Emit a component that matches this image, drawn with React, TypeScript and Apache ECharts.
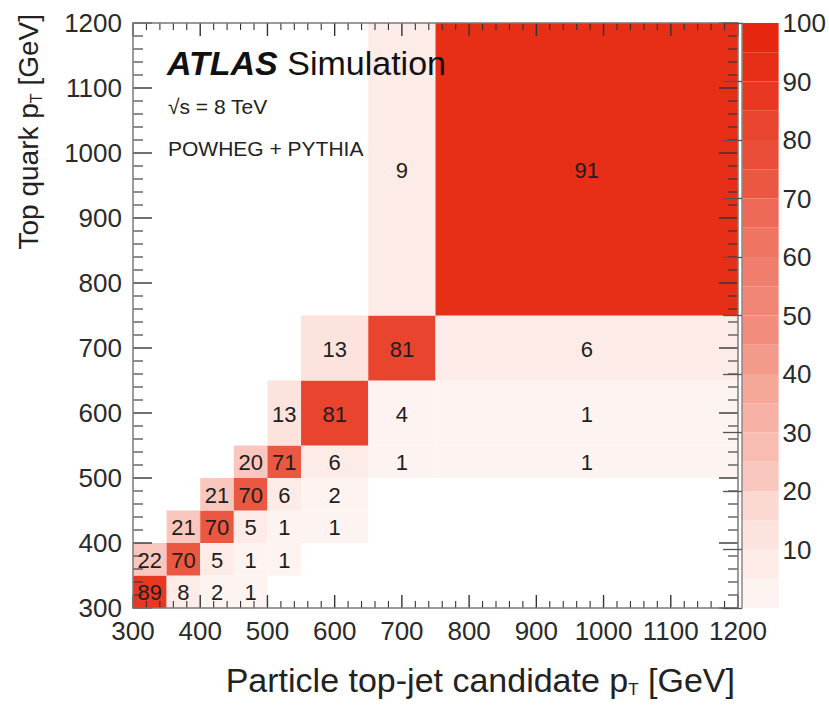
import React, { useEffect, useRef } from "react";
import * as echarts from "echarts";

// Bin edges (GeV) of the particle-level (x) and parton-level (y) top pT
const xBinEdges = [300, 350, 400, 450, 500, 550, 650, 750, 1200];
const yBinEdges = [300, 350, 400, 450, 500, 550, 650, 750, 1200];

// Migration matrix in %, one row per top-quark pT bin (bottom to top), null = empty
const migration: (number | null)[][] = [
  [89, 8, 2, 1, null, null, null, null],
  [22, 70, 5, 1, 1, null, null, null],
  [null, 21, 70, 5, 1, 1, null, null],
  [null, null, 21, 70, 6, 2, null, null],
  [null, null, null, 20, 71, 6, 1, 1],
  [null, null, null, null, 13, 81, 4, 1],
  [null, null, null, null, null, 13, 81, 6],
  [null, null, null, null, null, null, 9, 91],
];

// Axis ticks (GeV): labelled major ticks and the minor-tick step
const majorTicks = [300, 400, 500, 600, 700, 800, 900, 1000, 1100, 1200];
const majorStep = 100;
const minorStep = 20;

// Colour-bar steps (lower edges, %)
const colorSteps = [0, 5, 10, 15, 20, 25, 30, 35, 40, 45, 50, 55, 60, 65, 70, 75, 80, 85, 90, 95];
const colorStepWidth = 5;

const palette = [
  "#fdf3f1", "#fdebe7", "#fce3de", "#fbd9d2", "#f9c7bd",
  "#f8bcb0", "#f7b2a5", "#f5a898", "#f39a8a", "#f28d7e",
  "#f18676", "#f07e6d", "#ef7462", "#ee6957", "#eb5842",
  "#ea4e38", "#e9442e", "#e83822", "#e72e17", "#e6260f",
];

const FONT = '"Liberation Sans", Arial, Helvetica, sans-serif';

function colorFor(v: number): string {
  const i = Math.min(palette.length - 1, Math.max(0, Math.floor(v / colorStepWidth)));
  return palette[i];
}

export default function App() {
  const ref = useRef<HTMLDivElement>(null);

  useEffect(() => {
    if (!ref.current) return;
    const chart = echarts.init(ref.current, undefined, { renderer: "svg" });

    const lo = majorTicks[0];
    const hi = majorTicks[majorTicks.length - 1];

    // cell items: [x0, x1, y0, y1, value]
    const items: number[][] = [];
    migration.forEach((row, ri) => {
      row.forEach((v, ci) => {
        if (v === null) return;
        items.push([xBinEdges[ci], xBinEdges[ci + 1], yBinEdges[ri], yBinEdges[ri + 1], v]);
      });
    });
    // frame tick items: [t, t, lo, lo, -1 major | -2 minor]
    for (let i = 0; i < majorTicks.length; i++) {
      items.push([majorTicks[i], majorTicks[i], lo, lo, -1]);
      if (i < majorTicks.length - 1) {
        for (let m = majorTicks[i] + minorStep; m < majorTicks[i + 1]; m += minorStep) items.push([m, m, lo, lo, -2]);
      }
    }

    const bands = colorSteps.map((s) => [0, 1, s, s + colorStepWidth]);

    const tickColor = "#333333";
    const plain = (v: number) => String(v);

    const mkAxis = (pos: string, labels: boolean) => ({
      gridIndex: 0, type: "value", min: lo, max: hi, interval: majorStep, position: pos,
      axisLine: { show: true, lineStyle: { color: "#7a7a7a", width: 1.5 } },
      axisTick: { show: false },
      axisLabel: labels
        ? { show: true, fontSize: 26, color: "#2a2a2a", margin: pos === "left" ? 11 : 10, fontFamily: FONT, formatter: plain }
        : { show: false },
      splitLine: { show: false },
    });

    const option: any = {
      animation: false,
      backgroundColor: "#ffffff",
      textStyle: { fontFamily: FONT },
      grid: [
        { left: 133, top: 23, width: 605, height: 585 },
        { left: 742, top: 23, width: 39, height: 585 },
      ],
      xAxis: [
        mkAxis("bottom", true),
        mkAxis("top", false),
        { gridIndex: 1, type: "value", min: 0, max: 1, show: false },
      ],
      yAxis: [
        mkAxis("left", true),
        mkAxis("right", false),
        {
          gridIndex: 1, type: "value", min: 0, max: 100, interval: 10, position: "right",
          axisLine: { show: true, lineStyle: { color: "#8a8a8a", width: 1.5 } },
          axisTick: { show: true, inside: true, length: 19, lineStyle: { color: "#555555", width: 1.3 } },
          axisLabel: {
            show: true, fontSize: 26, color: "#2a2a2a", margin: 4, fontFamily: FONT,
            formatter: (v: number) => (v === 0 ? "" : String(v)),
          },
          splitLine: { show: false },
        },
      ],
      series: [
        {
          type: "custom",
          xAxisIndex: 0,
          yAxisIndex: 0,
          z: -1,
          clip: false,
          encode: { x: [0, 1], y: [2, 3] },
          data: items,
          renderItem: (_params: any, api: any) => {
            const x0 = api.value(0), x1 = api.value(1), y0 = api.value(2), y1 = api.value(3), v = api.value(4);
            if (v < 0) {
              const major = v === -1;
              const xl = major ? 13 : 7;
              const yl = major ? 19 : 10;
              const w = major ? 1.4 : 1.1;
              const b = api.coord([x0, lo]);
              const t = api.coord([x0, hi]);
              const l = api.coord([lo, x0]);
              const r = api.coord([hi, x0]);
              const st = { fill: tickColor };
              return {
                type: "group",
                z2: 50,
                children: [
                  { type: "rect", z2: 50, shape: { x: b[0] - w / 2, y: b[1] - xl, width: w, height: xl }, style: st },
                  { type: "rect", z2: 50, shape: { x: t[0] - w / 2, y: t[1], width: w, height: xl }, style: st },
                  { type: "rect", z2: 50, shape: { x: l[0], y: l[1] - w / 2, width: yl, height: w }, style: st },
                  { type: "rect", z2: 50, shape: { x: r[0] - yl, y: r[1] - w / 2, width: yl, height: w }, style: st },
                ],
              };
            }
            const p0 = api.coord([x0, y0]);
            const p1 = api.coord([x1, y1]);
            return {
              type: "group",
              children: [
                {
                  type: "rect",
                  shape: { x: p0[0], y: p1[1], width: p1[0] - p0[0], height: p0[1] - p1[1] },
                  style: { fill: colorFor(v) },
                },
                {
                  type: "text",
                  x: (p0[0] + p1[0]) / 2,
                  y: (p0[1] + p1[1]) / 2 + 1,
                  style: {
                    text: String(v), fill: "#1e1e1e", fontSize: 22, fontFamily: FONT,
                    align: "center", verticalAlign: "middle",
                  },
                },
              ],
            };
          },
        },
        {
          type: "custom",
          xAxisIndex: 2,
          yAxisIndex: 2,
          z: -1,
          encode: { x: [0, 1], y: [2, 3] },
          data: bands,
          renderItem: (_params: any, api: any) => {
            const p0 = api.coord([api.value(0), api.value(2)]);
            const p1 = api.coord([api.value(1), api.value(3)]);
            return {
              type: "rect",
              shape: { x: p0[0], y: p1[1], width: p1[0] - p0[0], height: p0[1] - p1[1] },
              style: { fill: colorFor(api.value(2)) },
            };
          },
        },
      ],
      graphic: [
        {
          type: "text", x: 167, y: 63, z: 20,
          style: {
            text: "{b|ATLAS}{r| Simulation}",
            verticalAlign: "middle", align: "left",
            rich: {
              b: { fontSize: 34, fontWeight: "bold", fontStyle: "italic", fontFamily: FONT, fill: "#111" },
              r: { fontSize: 34, fontFamily: FONT, fill: "#111" },
            },
          },
        },
        {
          type: "text", x: 168, y: 106, z: 20,
          style: { text: "√s = 8 TeV", fontSize: 21, fontFamily: FONT, fill: "#222", verticalAlign: "middle", align: "left" },
        },
        {
          type: "text", x: 168, y: 148, z: 20,
          style: { text: "POWHEG + PYTHIA", fontSize: 21, fontFamily: FONT, fill: "#222", verticalAlign: "middle", align: "left" },
        },
        {
          type: "text", x: 735, y: 680, z: 20,
          style: {
            text: "{a|Particle top-jet candidate p}{s|T}{a| [GeV]}",
            align: "right", verticalAlign: "middle",
            rich: {
              a: { fontSize: 34, fontFamily: FONT, fill: "#222", lineHeight: 36 },
              s: { fontSize: 17, fontFamily: FONT, fill: "#222", lineHeight: 12, verticalAlign: "bottom" },
            },
          },
        },
        {
          type: "text", x: 28, y: 14, z: 20, rotation: Math.PI / 2,
          style: {
            text: "{a|Top quark p}{s|T}{a| [GeV]}",
            align: "right", verticalAlign: "middle",
            rich: {
              a: { fontSize: 28, fontFamily: FONT, fill: "#222", lineHeight: 32 },
              s: { fontSize: 16, fontFamily: FONT, fill: "#222", lineHeight: 11, verticalAlign: "bottom" },
            },
          },
        },
      ],
    };

    chart.setOption(option);
    return () => chart.dispose();
  }, []);

  return (
    <div
      ref={ref}
      style={{ position: "fixed", left: 0, top: 0, width: 829, height: 705, background: "#fff" }}
    />
  );
}
